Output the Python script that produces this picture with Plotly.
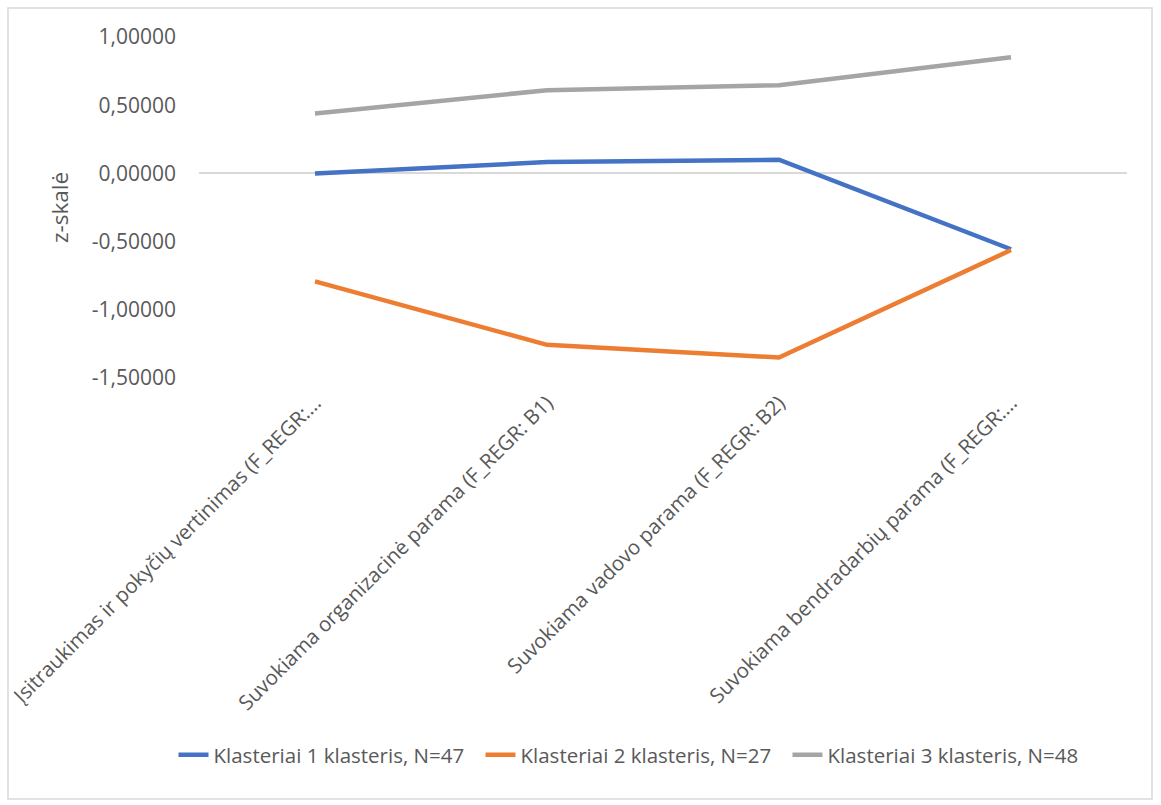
import plotly.graph_objects as go

categories = [
    "Įsitraukimas ir pokyčių vertinimas (F_REGR:…",
    "Suvokiama organizacinė parama (F_REGR: B1)",
    "Suvokiama vadovo parama (F_REGR: B2)",
    "Suvokiama bendradarbių parama (F_REGR:…",
]
series_names = [
    "Klasteriai 1 klasteris, N=47",
    "Klasteriai 2 klasteris, N=27",
    "Klasteriai 3 klasteris, N=48",
]
cluster1 = [0.0, 0.083, 0.100, -0.556]
cluster2 = [-0.792, -1.257, -1.350, -0.562]
cluster3 = [0.439, 0.610, 0.647, 0.851]
colors = ["#4472C4", "#ED7D31", "#A5A5A5"]
y_ticks = [1.0, 0.5, 0.0, -0.5, -1.0, -1.5]
y_ticktext = [f"{v:.5f}".replace(".", ",") for v in y_ticks]

W, H = 1161, 805
L, R, T, B = 199, 34, 37, 427
pw, ph = W - L - R, H - T - B

FONT = "Open Sans"
TXT = "#595959"

fig = go.Figure()
for name, vals, col in zip(series_names, [cluster1, cluster2, cluster3], colors):
    fig.add_trace(go.Scatter(
        x=list(range(len(categories))), y=vals, name=name, mode="lines",
        line=dict(color=col, width=4.5),
    ))

def px_x(p):
    return (p - L) / pw

def px_y(p):
    return (H - B - p) / ph

fig.add_shape(type="rect", xref="paper", yref="paper",
              x0=px_x(8), x1=px_x(1152), y0=px_y(8), y1=px_y(799),
              line=dict(color="#D9D9D9", width=1.5), fillcolor="rgba(0,0,0,0)", layer="below")

fig.update_layout(
    width=W, height=H,
    margin=dict(l=L, r=R, t=T, b=B, autoexpand=False),
    paper_bgcolor="white", plot_bgcolor="white",
    font=dict(family=FONT, color=TXT, size=18),
    showlegend=True,
    legend=dict(orientation="h", x=px_x(634), xanchor="center", y=px_y(755), yanchor="middle",
                font=dict(family=FONT, size=20.5, color=TXT), itemwidth=30, tracegroupgap=0,
                entrywidth=262, entrywidthmode="pixels"),
    xaxis=dict(
        range=[-0.5, 3.5], tickmode="array", tickvals=list(range(len(categories))),
        ticktext=categories, tickangle=-45, showgrid=False, zeroline=False,
        showline=False, ticks="", tickfont=dict(size=20.5, color=TXT), ticklabelstandoff=8,
    ),
    yaxis=dict(
        range=[-1.5, 1.0], tickmode="array", tickvals=y_ticks, ticktext=y_ticktext,
        showgrid=False, zeroline=True, zerolinecolor="#D9D9D9", zerolinewidth=1.5,
        showline=False, ticks="", tickfont=dict(size=21, color=TXT), ticklabelstandoff=22,
        title=dict(text="z-skalė", font=dict(size=22.5, color=TXT), standoff=16),
    ),
)

fig.write_html("out.html")
